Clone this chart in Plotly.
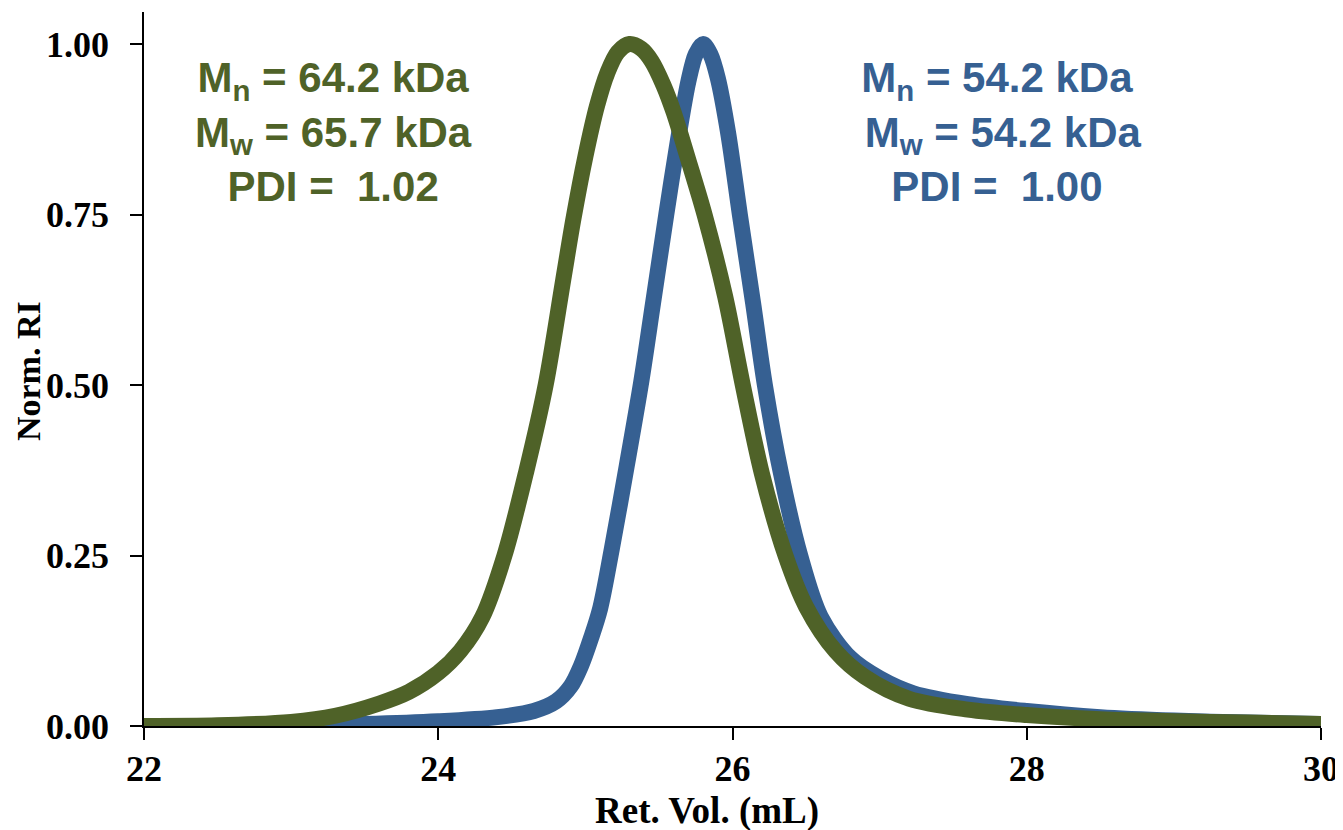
import plotly.graph_objects as go

# Green trace (64.2 kDa sample)
green_x = [22.0, 22.5, 23.0, 23.3, 23.6, 23.8, 24.0, 24.15, 24.3, 24.45, 24.6, 24.73, 24.85,
           24.92, 25.0, 25.08, 25.15, 25.22, 25.3, 25.38, 25.45, 25.53, 25.6, 25.7, 25.81,
           25.95, 26.07, 26.2, 26.36, 26.5, 26.7, 26.9, 27.2, 27.6, 28.0, 28.5, 29.0, 29.5, 30.0]
green_y = [0.000, 0.001, 0.006, 0.015, 0.033, 0.050, 0.078, 0.110, 0.160, 0.25, 0.375, 0.50, 0.655,
           0.745, 0.835, 0.91, 0.958, 0.988, 1.0, 0.993, 0.975, 0.94, 0.90, 0.83, 0.75,
           0.63, 0.50, 0.37, 0.25, 0.175, 0.11, 0.072, 0.04, 0.024, 0.016, 0.010, 0.007, 0.005, 0.003]

# Blue trace (54.2 kDa sample)
blue_x = [22.0, 22.5, 23.0, 23.5, 24.0, 24.4, 24.65, 24.8, 24.9, 24.97, 25.04, 25.1, 25.18,
          25.28, 25.38, 25.46, 25.55, 25.63, 25.7, 25.75, 25.8, 25.85, 25.9, 25.97, 26.05, 26.14,
          26.22, 26.33, 26.46, 26.6, 26.8, 27.0, 27.23, 27.6, 28.0, 28.5, 29.0, 29.5, 30.0]
blue_y = [0.000, 0.000, 0.001, 0.003, 0.007, 0.013, 0.022, 0.036, 0.058, 0.088, 0.13, 0.172, 0.26,
          0.38, 0.505, 0.62, 0.75, 0.86, 0.945, 0.985, 1.0, 0.985, 0.95, 0.87, 0.75, 0.62,
          0.50, 0.37, 0.25, 0.16, 0.10, 0.07, 0.048, 0.032, 0.022, 0.013, 0.008, 0.005, 0.003]

x_ticks = [22, 24, 26, 28, 30]
y_ticks = [0.0, 0.25, 0.5, 0.75, 1.0]

green_label = "M<sub>n</sub> = 64.2 kDa<br>M<sub>w</sub> = 65.7 kDa<br>PDI =&nbsp; 1.02"
blue_label = "M<sub>n</sub> = 54.2 kDa<br>&nbsp;M<sub>w</sub> = 54.2 kDa<br>PDI =&nbsp; 1.00"
x_title = "Ret. Vol. (mL)"
y_title = "Norm. RI"

GREEN = "#4F6228"
BLUE = "#366092"

fig = go.Figure()
fig.add_trace(go.Scatter(x=blue_x, y=blue_y, mode="lines",
                         line=dict(color=BLUE, width=16, shape="spline", smoothing=0.9),
                         showlegend=False))
fig.add_trace(go.Scatter(x=green_x, y=green_y, mode="lines",
                         line=dict(color=GREEN, width=16, shape="spline", smoothing=0.9),
                         showlegend=False))

ann_font = dict(family="Liberation Sans, Arial", size=42, weight="bold")
fig.add_annotation(x=23.285, y=0.871, xref="x", yref="y", text=green_label, showarrow=False,
                   align="center", font=dict(color=GREEN, **ann_font))
fig.add_annotation(x=27.8, y=0.871, xref="x", yref="y", text=blue_label, showarrow=False,
                   align="center", font=dict(color=BLUE, **ann_font))

serif = "Liberation Serif, Times New Roman"
tick_font = dict(family=serif, size=36, color="black", weight="bold")

# axis titles placed as annotations in paper coordinates
fig.add_annotation(x=0.478, y=-0.119, xref="paper", yref="paper", text=x_title,
                   showarrow=False, font=dict(family=serif, size=37, color="black", weight="bold"),
                   xanchor="center", yanchor="middle")
fig.add_annotation(x=-0.0986, y=0.497, xref="paper", yref="paper", text=y_title,
                   showarrow=False, font=dict(family=serif, size=34, color="black", weight="bold"),
                   textangle=-90, xanchor="center", yanchor="middle")

fig.update_xaxes(range=[22, 30], tickvals=x_ticks, ticktext=[str(v) for v in x_ticks],
                 showline=True, linecolor="black", linewidth=1.5, mirror=False,
                 ticks="outside", ticklen=12, tickwidth=1.5, tickcolor="black",
                 showgrid=False, zeroline=False, tickfont=tick_font, ticklabelstandoff=-2,
                 automargin=False)
fig.update_yaxes(range=[0, 1.047], tickvals=y_ticks, ticktext=[f"{v:.2f}" for v in y_ticks],
                 showline=True, linecolor="black", linewidth=1.5,
                 ticks="outside", ticklen=12, tickwidth=1.5, tickcolor="black",
                 showgrid=False, zeroline=False, tickfont=tick_font, ticklabelstandoff=14,
                 automargin=False)

# page body has an 8px margin, so the figure is sized to fit the window from (8, 8)
fig.update_layout(width=1335, height=822, margin=dict(l=136, r=22, t=4, b=104),
                  plot_bgcolor="white", paper_bgcolor="white")

fig.write_html("out.html")
